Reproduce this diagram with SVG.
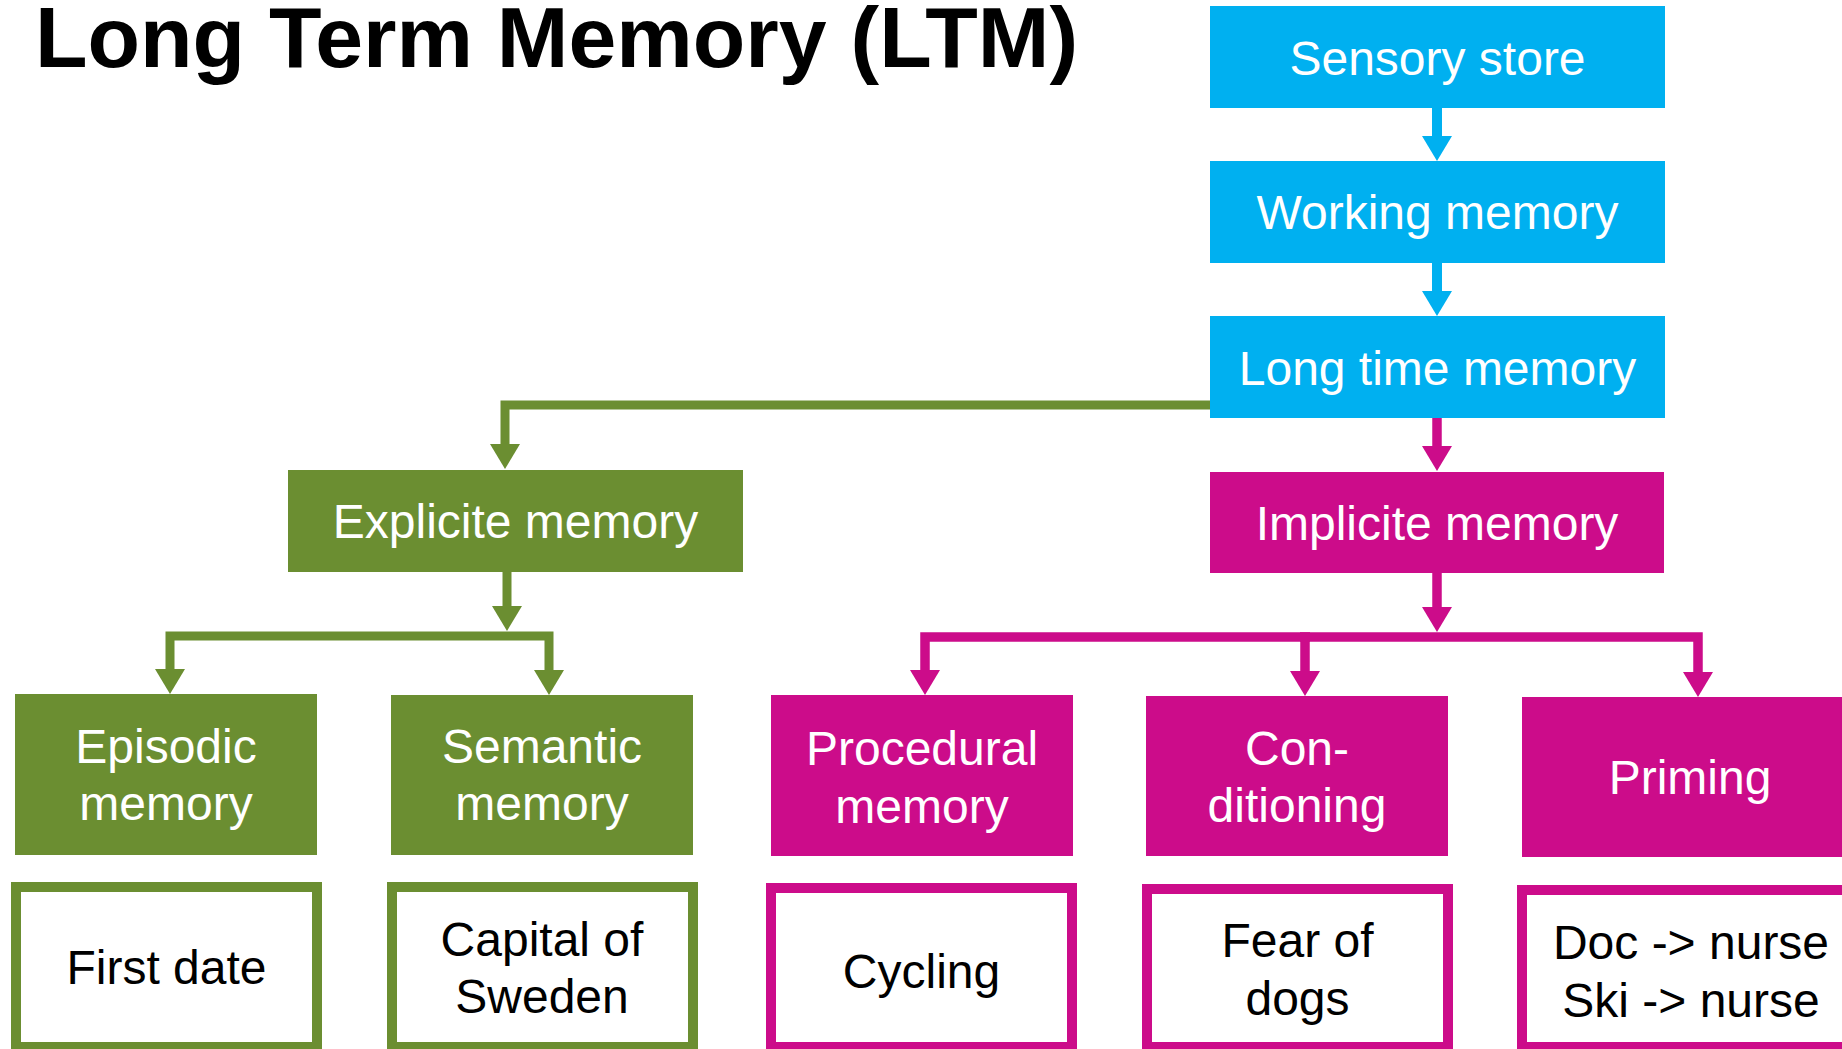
<svg xmlns="http://www.w3.org/2000/svg" width="1842" height="1049" viewBox="0 0 1842 1049">
  <style>
    .t { font-family: "Liberation Sans", Arial, sans-serif; font-size: 48px; text-anchor: middle; }
    .w { fill: #ffffff; }
    .k { fill: #000000; }
    .blue { fill: #00B0F0; }
    .green { fill: #6B8E31; }
    .mag { fill: #CC0C8A; }
    .ex-g { fill: #ffffff; stroke: #6B8E31; stroke-width: 10; }
    .ex-m { fill: #ffffff; stroke: #CC0C8A; stroke-width: 10; }
    .c { fill: none; stroke-linejoin: miter; stroke-linecap: butt; }
    .cb { stroke: #00B0F0; stroke-width: 10; marker-end: url(#ab); }
    .cg { stroke: #6B8E31; stroke-width: 9; marker-end: url(#ag); }
    .cm { stroke: #CC0C8A; stroke-width: 9.5; marker-end: url(#am); }
  </style>
  <defs>
    <marker id="ab" viewBox="0 0 25 30" refX="0" refY="15" markerWidth="25" markerHeight="30" markerUnits="userSpaceOnUse" orient="auto">
      <path d="M0,0 L25,15 L0,30 Z" fill="#00B0F0"/>
    </marker>
    <marker id="ag" viewBox="0 0 25 30" refX="0" refY="15" markerWidth="25" markerHeight="30" markerUnits="userSpaceOnUse" orient="auto">
      <path d="M0,0 L25,15 L0,30 Z" fill="#6B8E31"/>
    </marker>
    <marker id="am" viewBox="0 0 25 30" refX="0" refY="15" markerWidth="25" markerHeight="30" markerUnits="userSpaceOnUse" orient="auto">
      <path d="M0,0 L25,15 L0,30 Z" fill="#CC0C8A"/>
    </marker>
  </defs>

  <rect width="1842" height="1049" fill="#ffffff"/>

  <text x="35" y="67" font-family="'Liberation Sans', Arial, sans-serif" font-size="86" font-weight="bold" fill="#000000">Long Term Memory (LTM)</text>

  <g id="connectors">
    <path class="c cb" d="M1437,108 V136"/>
    <path class="c cb" d="M1437,263 V291"/>
    <path class="c cg" d="M1210,405 H505 V444"/>
    <path class="c cm" d="M1437,418 V446"/>
    <path class="c cg" d="M507,572 V606"/>
    <path class="c cg" d="M360,636 H170 V669"/>
    <path class="c cg" d="M360,636 H549 V670"/>
    <path class="c cm" d="M1437,573 V607"/>
    <path class="c cm" d="M1310,637 H925 V670"/>
    <path class="c cm" d="M1305,637 V671"/>
    <path class="c cm" d="M1300,637 H1698 V672"/>
  </g>

  <g id="sensory-store">
    <rect class="blue" x="1210" y="6" width="455" height="102"/>
    <text class="t w" x="1437.5" y="75">Sensory store</text>
  </g>
  <g id="working-memory">
    <rect class="blue" x="1210" y="161" width="455" height="102"/>
    <text class="t w" x="1437.5" y="229">Working memory</text>
  </g>
  <g id="long-time-memory">
    <rect class="blue" x="1210" y="316" width="455" height="102"/>
    <text class="t w" x="1437.5" y="385">Long time memory</text>
  </g>

  <g id="explicite-memory">
    <rect class="green" x="288" y="470" width="455" height="102"/>
    <text class="t w" x="515.5" y="538">Explicite memory</text>
  </g>
  <g id="implicite-memory">
    <rect class="mag" x="1210" y="472" width="454" height="101"/>
    <text class="t w" x="1437" y="540">Implicite memory</text>
  </g>

  <g id="episodic-memory">
    <rect class="green" x="15" y="694" width="302" height="161"/>
    <text class="t w" x="166" y="763">Episodic</text>
    <text class="t w" x="166" y="820">memory</text>
  </g>
  <g id="semantic-memory">
    <rect class="green" x="391" y="695" width="302" height="160"/>
    <text class="t w" x="542" y="763">Semantic</text>
    <text class="t w" x="542" y="820">memory</text>
  </g>
  <g id="procedural-memory">
    <rect class="mag" x="771" y="695" width="302" height="161"/>
    <text class="t w" x="922" y="765">Procedural</text>
    <text class="t w" x="922" y="823">memory</text>
  </g>
  <g id="conditioning">
    <rect class="mag" x="1146" y="696" width="302" height="160"/>
    <text class="t w" x="1297" y="765">Con-</text>
    <text class="t w" x="1297" y="822">ditioning</text>
  </g>
  <g id="priming">
    <rect class="mag" x="1522" y="697" width="340" height="160"/>
    <text class="t w" x="1690" y="794">Priming</text>
  </g>

  <g id="first-date">
    <rect class="ex-g" x="16" y="887" width="301" height="160"/>
    <text class="t k" x="166.5" y="984">First date</text>
  </g>
  <g id="capital-of-sweden">
    <rect class="ex-g" x="392" y="887" width="301" height="160"/>
    <text class="t k" x="542" y="956">Capital of</text>
    <text class="t k" x="542" y="1013">Sweden</text>
  </g>
  <g id="cycling">
    <rect class="ex-m" x="771" y="888" width="301" height="159"/>
    <text class="t k" x="921.5" y="988">Cycling</text>
  </g>
  <g id="fear-of-dogs">
    <rect class="ex-m" x="1147" y="889" width="301" height="158"/>
    <text class="t k" x="1297.5" y="957">Fear of</text>
    <text class="t k" x="1297.5" y="1015">dogs</text>
  </g>
  <g id="doc-nurse">
    <rect class="ex-m" x="1522" y="890" width="340" height="157"/>
    <text class="t k" x="1691" y="959">Doc -&gt; nurse</text>
    <text class="t k" x="1691" y="1017">Ski -&gt; nurse</text>
  </g>
</svg>
